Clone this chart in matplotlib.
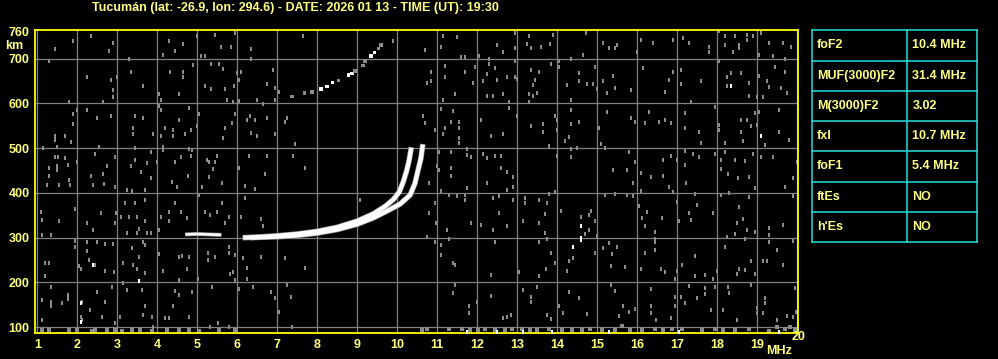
import matplotlib
matplotlib.use("Agg")
import matplotlib.pyplot as plt

# ionogram header / table
title = "Tucumán (lat: -26.9, lon: 294.6) - DATE: 2026 01 13 - TIME (UT): 19:30"
param_names = ["foF2", "MUF(3000)F2", "M(3000)F2", "fxI", "foF1", "ftEs", "h'Es"]
param_values = ["10.4 MHz", "31.4 MHz", "3.02", "10.7 MHz", "5.4 MHz", "NO", "NO"]

freq_ticks = list(range(1, 21))
height_ticks = [100, 200, 300, 400, 500, 600, 700, 760]

# F-layer traces (MHz, km)
o_f = [6.2, 6.5, 7.0, 7.5, 8.0, 8.5, 9.0, 9.4, 9.7, 9.9, 10.05, 10.15, 10.23, 10.29, 10.34]
o_h = [300, 301, 304, 308, 314, 323, 337, 353, 370, 385, 402, 425, 448, 470, 496]
x_f = [6.4, 7.0, 7.5, 8.0, 8.5, 9.0, 9.4, 9.8, 10.07, 10.32, 10.44, 10.52, 10.59, 10.63]
x_h = [300, 302, 305, 310, 318, 330, 344, 362, 375, 395, 421, 451, 477, 503]
e_f = [4.7, 5.0, 5.3, 5.6]
e_h = [307, 308, 307, 306]

# second hop trace
hop2_f = [7.36, 7.68, 7.86, 8.09, 8.24, 8.38, 8.53, 8.78, 8.86, 8.94, 9.15, 9.19, 9.34, 9.43, 9.53, 9.59]
hop2_h = [615, 623, 626, 632, 638, 647, 651, 664, 667, 673, 685, 694, 706, 714, 723, 731]
hop2_white = [0, 0, 0, 1, 1, 1, 0, 1, 1, 0, 0, 0, 1, 1, 0, 0]

# scattered noise echoes (MHz, km)
noise_f = [1.44, 1.88, 2.33, 2.88, 2.78, 1.28, 2.23, 1.78, 2.65, 2.83, 2.88, 2.90, 2.98, 3.33, 3.63, 3.30,
           4.13, 4.29, 4.64, 4.43, 4.98, 5.44, 5.94, 5.58, 5.83, 5.09, 5.19, 5.33, 5.53, 5.65, 4.88, 4.32,
           4.64, 4.64, 4.04, 4.09, 4.53, 5.19, 5.33, 5.69, 5.92, 5.98, 6.09, 6.04, 5.73, 5.90, 6.04, 6.34,
           6.34, 6.88, 6.74, 6.94, 6.48, 6.93, 6.63, 7.03, 7.63, 9.89, 1.98, 1.88, 1.88, 2.23, 2.48, 2.83,
           3.44, 3.63, 3.38, 3.38, 3.88, 4.04, 4.09, 4.53, 4.78, 5.03, 4.98, 4.18, 4.38, 4.38, 4.68, 4.83,
           4.08, 5.69, 5.65, 5.94, 5.86, 6.23, 6.32, 6.44, 6.34, 6.48, 6.74, 6.93, 7.18, 7.23, 7.43, 1.44,
           1.44, 1.69, 1.84, 1.48, 1.15, 1.44, 1.51, 1.69, 1.76, 1.98, 1.28, 1.48, 1.48, 1.78, 2.44, 2.53,
           2.73, 2.94, 3.44, 3.44, 3.34, 3.59, 3.84, 3.75, 4.00, 4.13, 4.13, 4.44, 4.58, 4.79, 4.87, 4.83,
           5.23, 5.28, 5.44, 5.48, 5.38, 5.28, 6.03, 6.28, 6.73, 6.68, 7.39, 7.68, 4.76, 3.85, 2.33, 2.65,
           1.28,
           10.69, 11.13, 11.48, 11.08, 10.84, 10.84, 10.74, 11.19, 11.19, 11.69, 11.94, 11.88, 11.44, 11.13,
           11.58, 11.68, 12.04, 12.29, 12.29, 12.44, 12.23, 12.48, 12.15, 12.74, 12.94, 12.94, 12.98, 12.63,
           12.23, 12.40, 12.79, 12.49, 12.64, 12.94, 12.94, 13.28, 13.25, 13.59, 13.82, 13.89, 13.34, 13.35,
           13.54, 13.43, 13.39, 13.29, 13.38, 13.49, 13.84, 13.29, 14.04, 14.04, 14.23, 14.53, 14.55, 14.74,
           14.90, 14.94, 14.98, 14.33, 14.71, 14.65, 14.34, 15.13, 15.29, 15.44, 15.49, 15.23, 15.15, 15.39,
           15.44, 15.84, 15.99, 16.09, 16.38, 16.14, 16.88, 16.79, 16.89, 17.09, 17.08, 16.69, 17.13, 17.29,
           17.58, 17.34, 17.78, 17.78, 18.03, 18.19, 18.44, 18.73, 18.73, 18.90, 18.54, 18.54, 18.19, 18.38,
           19.09, 19.28, 19.63, 19.85, 19.04, 19.38, 19.69, 18.34, 18.59, 18.23, 18.78, 18.78, 18.98, 19.13,
           18.03, 18.23, 19.04, 19.23, 19.44, 19.69, 19.58, 19.74, 19.28,
           11.09, 11.39, 10.65, 10.69, 11.18, 11.34, 11.53, 11.53, 11.53, 11.53, 10.94, 11.13, 12.08, 12.34,
           12.64, 12.79, 12.98, 13.34, 13.64, 13.64, 13.94, 13.99, 13.99, 13.79, 14.33, 14.33, 14.28, 14.19,
           14.53, 15.03, 15.08, 15.23, 15.84, 15.94, 16.19, 16.29, 16.55, 16.69, 16.84, 17.18, 17.18, 17.54,
           17.58, 17.94, 18.03, 18.03, 18.19, 18.59, 18.73, 18.59, 18.84, 18.98, 18.94, 19.04, 19.53, 19.53,
           19.79, 19.18, 18.65,
           10.64, 11.03, 11.34, 11.73, 11.83, 11.73, 12.14, 12.24, 12.44, 12.59, 12.59, 12.74, 12.89, 11.03,
           11.34, 11.34, 10.99, 14.33, 14.33, 14.48, 15.18, 15.39, 15.73, 15.78, 15.94, 16.08, 16.34, 16.63,
           16.63, 16.84, 16.98, 17.19, 17.19, 17.38, 17.54, 17.94, 18.08, 18.08, 18.19, 18.44, 18.69, 18.89,
           19.08, 19.38, 18.78, 18.51, 18.27, 19.88, 19.98, 13.99,
           1.23, 1.55, 1.81, 2.38, 2.66, 2.94, 3.23, 3.36, 3.69, 4.36, 4.48, 5.11, 5.61, 6.19, 6.44, 1.09,
           1.13, 1.53, 1.94, 2.23, 2.38, 2.58, 2.96, 2.93, 3.19, 3.44, 3.69, 3.09, 3.30, 3.50, 3.48, 3.23,
           3.54, 3.69, 3.73, 3.84, 4.04, 4.09, 4.29, 4.29, 4.58, 4.44, 4.74, 5.03, 5.18, 5.31, 5.48, 5.61,
           5.69, 5.78, 6.19, 6.08, 6.59, 6.63, 9.07, 1.13, 1.34, 1.94, 1.94, 2.23, 2.23, 2.48, 2.69, 2.88,
           2.28, 2.03, 2.08, 2.44, 2.69, 2.92, 3.13, 3.36, 3.53, 3.63, 3.69, 3.38, 3.48, 3.69, 4.03, 4.13,
           4.53, 4.61, 4.78, 4.74, 4.55, 5.01, 5.26, 5.26, 5.44, 5.78, 5.80, 5.95, 5.81, 5.94, 6.13, 6.23,
           6.23, 6.59, 7.18, 7.68, 1.19, 1.29, 1.19, 1.34, 1.13, 1.13, 1.34, 1.34, 1.61, 1.76, 1.76, 2.11,
           2.08, 2.11, 2.32, 2.48, 2.69, 2.61, 2.86, 2.94, 3.07, 3.13, 3.23, 3.61, 3.65, 3.69, 3.86, 3.90,
           4.38, 4.19, 4.29, 4.43, 4.53, 4.78, 4.87, 5.36, 5.52, 5.32, 5.78, 6.03, 6.40, 6.84, 6.94, 7.04,
           7.34, 7.23, 7.36, 5.90,
           10.78, 11.09, 11.28, 11.48, 11.69, 11.69, 11.73, 12.23, 12.53, 12.73, 12.88, 12.88, 12.40, 13.19,
           13.19, 13.53, 13.75, 13.78, 13.94, 10.79, 10.94, 10.96, 11.23, 11.28, 10.73, 10.94, 11.09, 11.09,
           11.38, 11.43, 11.83, 12.08, 12.38, 12.53, 12.73, 13.13, 13.54, 13.68, 13.69, 13.74, 13.53, 12.44,
           13.84, 13.93, 13.72, 13.54, 13.04, 12.34, 14.09, 14.24, 14.29, 14.38, 14.59, 14.78, 14.84, 14.79,
           14.69, 14.94, 14.98, 14.94, 15.15, 15.29, 15.36, 15.48, 15.69, 16.09, 15.33, 15.19, 15.43, 15.73,
           15.90, 16.09, 15.88, 16.03, 16.24, 16.11, 16.19, 16.43, 16.44, 16.43, 16.44, 16.18, 16.61, 16.59,
           16.68, 16.79, 16.90, 16.98, 17.03, 17.28, 17.34, 17.48, 17.21, 17.44, 17.88, 18.09, 18.28, 18.53,
           18.78, 18.94, 19.28, 19.28, 19.28, 19.48, 19.63, 19.90, 19.88, 19.69, 18.65, 18.73, 18.94, 18.48,
           18.23, 18.43, 18.69, 18.84, 18.69, 18.53, 18.94, 19.13, 19.23, 19.63, 18.48, 18.19, 17.43, 17.11,
           17.00, 16.94, 17.68, 17.90, 17.98, 17.44,
           11.44, 11.40, 11.78, 11.78, 12.00, 12.34, 12.65, 12.73, 12.84, 13.13, 13.34, 13.34, 13.48, 13.73,
           13.84, 14.04, 14.13, 14.28, 14.53, 14.73, 15.34, 15.44, 15.63, 15.54, 15.78, 15.94, 16.33, 16.34,
           16.34, 16.46, 16.84, 16.94, 16.94, 17.08, 17.18, 17.48, 17.28, 17.69, 17.69, 17.84, 17.93, 18.13,
           18.26, 18.29, 18.48, 18.84, 18.98, 18.98, 19.19, 19.19, 19.15, 19.48, 19.73, 19.88, 19.94, 19.97]
noise_h = [722, 740, 750, 735, 717, 694, 658, 604, 604, 652, 630, 615, 658, 670, 639, 700,
           708, 740, 733, 718, 750, 753, 758, 727, 727, 705, 705, 689, 689, 677, 685, 670,
           670, 658, 622, 608, 622, 638, 632, 632, 639, 667, 669, 652, 608, 604, 606, 722,
           700, 675, 644, 634, 608, 608, 599, 626, 750, 740, 585, 576, 554, 585, 568, 572,
           572, 568, 545, 532, 532, 594, 585, 563, 590, 576, 550, 545, 541, 527, 532, 541,
           527, 545, 523, 576, 556, 562, 572, 563, 533, 526, 568, 532, 559, 568, 509, 527,
           518, 526, 514, 503, 500, 481, 481, 477, 462, 470, 455, 459, 451, 429, 487, 503,
           459, 479, 500, 474, 460, 447, 492, 466, 468, 503, 496, 468, 479, 497, 496, 483,
           474, 468, 470, 482, 453, 436, 456, 482, 482, 442, 482, 456, 438, 434, 438, 442,
           438,
           720, 750, 748, 727, 671, 651, 645, 684, 658, 671, 682, 645, 620, 608,
           703, 703, 705, 699, 688, 680, 665, 653, 649, 658, 694, 660, 654, 621,
           617, 617, 604, 731, 714, 758, 723, 751, 733, 726, 732, 753, 723, 675,
           671, 653, 640, 620, 617, 623, 688, 604, 694, 681, 641, 667, 649, 644,
           644, 681, 632, 608, 758, 708, 700, 735, 723, 723, 731, 623, 649, 662,
           635, 630, 714, 741, 736, 680, 741, 653, 669, 675, 644, 626, 746, 735,
           649, 604, 727, 715, 761, 750, 750, 752, 742, 750, 731, 723, 731, 714,
           758, 736, 736, 726, 708, 705, 699, 667, 667, 638, 645, 617, 615, 615,
           694, 658, 661, 649, 682, 671, 634, 623, 636,
           588, 583, 572, 557, 546, 559, 559, 546, 522, 511, 541, 532, 563, 528,
           532, 589, 572, 550, 554, 537, 572, 563, 541, 505, 585, 554, 524, 515,
           559, 544, 509, 581, 567, 559, 557, 581, 559, 563, 557, 579, 546, 535,
           512, 591, 552, 541, 511, 563, 563, 537, 550, 552, 578, 581, 585, 537,
           518, 507, 515,
           496, 492, 492, 497, 479, 485, 487, 477, 482, 482, 456, 447, 436, 451,
           456, 438, 460, 497, 479, 500, 500, 451, 451, 491, 470, 445, 435, 438,
           474, 482, 474, 494, 462, 487, 479, 487, 453, 474, 492, 474, 471, 487,
           479, 479, 436, 434, 442, 434, 470, 482,
           418, 418, 418, 418, 420, 413, 407, 403, 407, 425, 413, 414, 423, 416, 408, 358,
           339, 336, 363, 332, 317, 354, 354, 332, 377, 378, 384, 347, 347, 347, 310, 310,
           319, 336, 310, 310, 317, 345, 336, 358, 358, 378, 343, 395, 358, 351, 358, 378,
           332, 347, 388, 347, 341, 326, 383, 306, 306, 293, 280, 291, 269, 291, 286, 286,
           250, 237, 229, 239, 226, 224, 244, 276, 257, 291, 283, 239, 229, 220, 263, 226,
           257, 259, 256, 229, 205, 207, 266, 250, 256, 280, 266, 261, 218, 205, 254, 231,
           207, 257, 254, 231, 244, 244, 213, 189, 160, 116, 157, 146, 153, 172, 162, 157,
           123, 116, 138, 179, 157, 123, 190, 108, 123, 199, 183, 183, 127, 146, 123, 101,
           146, 121, 121, 181, 172, 123, 179, 189, 110, 101, 101, 184, 190, 179, 164, 134,
           168, 194, 101, 222,
           423, 405, 395, 392, 395, 384, 410, 423, 392, 407, 414, 383, 388, 388,
           378, 383, 378, 398, 401, 356, 378, 332, 316, 296, 301, 289, 283, 261,
           244, 239, 333, 328, 316, 356, 325, 338, 333, 311, 352, 296, 289, 289,
           265, 244, 229, 214, 222, 216, 360, 226, 248, 254, 345, 351, 360, 316,
           308, 336, 304, 266, 276, 287, 263, 280, 234, 229, 237, 395, 398, 395,
           423, 405, 392, 371, 358, 343, 326, 313, 296, 289, 272, 265, 343, 229,
           222, 413, 401, 380, 336, 354, 339, 373, 423, 398, 356, 395, 399, 369,
           390, 410, 321, 306, 289, 272, 328, 392, 293, 414, 341, 316, 313, 333,
           301, 308, 296, 248, 228, 229, 218, 248, 248, 239, 218, 280, 259, 239,
           226, 207, 216, 207, 226, 214,
           194, 177, 146, 131, 157, 169, 121, 123, 127, 183, 168, 157, 190, 127,
           117, 147, 132, 179, 164, 129, 194, 181, 147, 125, 134, 140, 184, 146,
           131, 116, 121, 168, 146, 168, 153, 164, 192, 187, 174, 138, 189, 138,
           190, 177, 116, 194, 142, 131, 166, 153, 131, 116, 125, 123, 187, 134]

# ground clutter near the bottom of the sweep
clutter_f = [1.11, 1.28, 1.78, 1.98, 2.36, 2.44, 2.73, 2.94, 3.11, 3.36, 3.57, 3.86, 4.23, 4.53, 4.78,
             5.03, 5.53, 5.94, 10.61, 10.73, 11.28, 11.61, 11.82, 12.02, 12.19, 12.44, 12.69, 12.86,
             13.11, 13.32, 13.48, 13.78, 14.11, 14.36, 14.61, 14.82, 15.11, 15.44, 15.61, 15.82, 16.11,
             16.44, 16.65, 16.86, 17.11, 17.61, 17.94, 18.15, 18.44, 18.78, 19.28, 19.48, 19.69, 19.82,
             19.94]
clutter_h = [93, 94, 93, 94, 92, 93, 94, 93, 92, 94, 93, 92, 93, 94, 93,
             92, 93, 94, 93, 95, 95, 96, 93, 93, 95, 93, 93, 95,
             95, 93, 93, 95, 93, 93, 93, 95, 93, 93, 102, 93, 93,
             96, 93, 95, 95, 93, 95, 93, 93, 95, 92, 101, 95, 101,
             95]

# bright isolated echoes
bright_f = [2.38, 3.53, 2.08, 2.08, 14.58, 14.58, 14.58, 14.38, 18.34, 19.08,
            11.73, 12.48, 13.13, 13.86, 15.28, 17.03, 19.53]
bright_h = [239, 204, 153, 112, 325, 300, 294, 278, 638, 527,
            90, 90, 90, 90, 90, 90, 90]

W, H = 998, 359
fig = plt.figure(figsize=(W / 100, H / 100), dpi=100, facecolor="black")
ax = fig.add_axes([35.3 / W, 1 - 333.3 / H, (797.7 - 35.3) / W, (333.3 - 30) / H])
ax.set_facecolor("black")
ax.set_xlim(0.95, 20.01)
ax.set_ylim(86, 764)

txt = "#ffff80"
fnt = "Liberation Sans"
for f in freq_ticks:
    ax.axvline(f, color="#808080", lw=0.9, zorder=1)
for h in height_ticks[:-1]:
    ax.axhline(h, color="#808080", lw=0.9, zorder=1)

# small vertical blocks like the sounder pixels
blk = [(-1, -1.5), (1, -1.5), (1, 1.5), (-1, 1.5)]
ax.scatter(noise_f, noise_h, marker=blk, s=7, c="#8c8c8c", linewidths=0, zorder=2)
ax.scatter(clutter_f, clutter_h, marker="s", s=9, c="#8c8c8c", linewidths=0, zorder=2)

ax.plot(e_f, e_h, color="#9a9a9a", lw=2.8, solid_capstyle="butt", zorder=3)
ax.plot(e_f, e_h, color="white", lw=1.8, solid_capstyle="butt", zorder=3)
ax.plot(x_f, x_h, color="#9a9a9a", lw=4.0, zorder=3)
ax.plot(o_f, o_h, color="#9a9a9a", lw=4.0, zorder=3)
ax.plot(x_f, x_h, color="white", lw=3.0, zorder=4)
ax.plot(o_f, o_h, color="white", lw=3.0, zorder=4)

hop_cols = ["white" if w else "#8c8c8c" for w in hop2_white]
ax.scatter(hop2_f, hop2_h, marker="s", s=7, c=hop_cols, linewidths=0, zorder=4)
ax.scatter(bright_f, bright_h, marker=blk, s=7, c="white", linewidths=0, zorder=4)

for s in ax.spines.values():
    s.set_color("#ffff00")
    s.set_linewidth(1.3)

ax.set_xticks(freq_ticks)
ax.set_xticklabels([str(f) if f != 20 else "" for f in freq_ticks])
ax.set_yticks(height_ticks)
ax.set_yticklabels([str(h) for h in height_ticks])
ax.tick_params(length=0, colors=txt, labelsize=9, pad=4)
for lab in ax.get_xticklabels() + ax.get_yticklabels():
    lab.set_fontweight("bold")
    lab.set_family(fnt)

fig.text(799 / W, 1 - 337 / H, "20", color=txt, fontsize=9, fontweight="bold",
         family=fnt, ha="center", va="center")
fig.text(779 / W, 1 - 351 / H, "MHz", color=txt, fontsize=9, fontweight="bold",
         family=fnt, ha="center", va="center")
fig.text(14 / W, 1 - 46 / H, "km", color=txt, fontsize=9, fontweight="bold",
         family=fnt, ha="center", va="center")
fig.text(295 / W, 1 - 8 / H, title, color=txt, fontsize=9, fontweight="bold",
         family=fnt, ha="center", va="center")

# parameter table
tx0, tx1, tdiv = 812.3, 977.3, 907
ty0, ty1 = 30.3, 242
tab = fig.add_axes([tx0 / W, 1 - ty1 / H, (tx1 - tx0) / W, (ty1 - ty0) / H])
tab.set_xlim(tx0, tx1)
tab.set_ylim(ty1, ty0)
tab.axis("off")
cyan = "#22dede"
n = len(param_names)
rh = (ty1 - ty0) / n
for i in range(n + 1):
    tab.plot([tx0, tx1], [ty0 + i * rh] * 2, color=cyan, lw=1.1, clip_on=False)
for xv in (tx0, tdiv, tx1):
    tab.plot([xv, xv], [ty0, ty1], color=cyan, lw=1.1, clip_on=False)
for i, (nm, vl) in enumerate(zip(param_names, param_values)):
    yc = ty0 + (i + 0.5) * rh
    tab.text(817, yc, nm, color=txt, fontsize=9, fontweight="bold",
             family=fnt, va="center", ha="left")
    tab.text(912.5, yc, vl, color=txt, fontsize=9, fontweight="bold",
             family=fnt, va="center", ha="left")

fig.savefig("out.png", dpi=100, facecolor="black")
